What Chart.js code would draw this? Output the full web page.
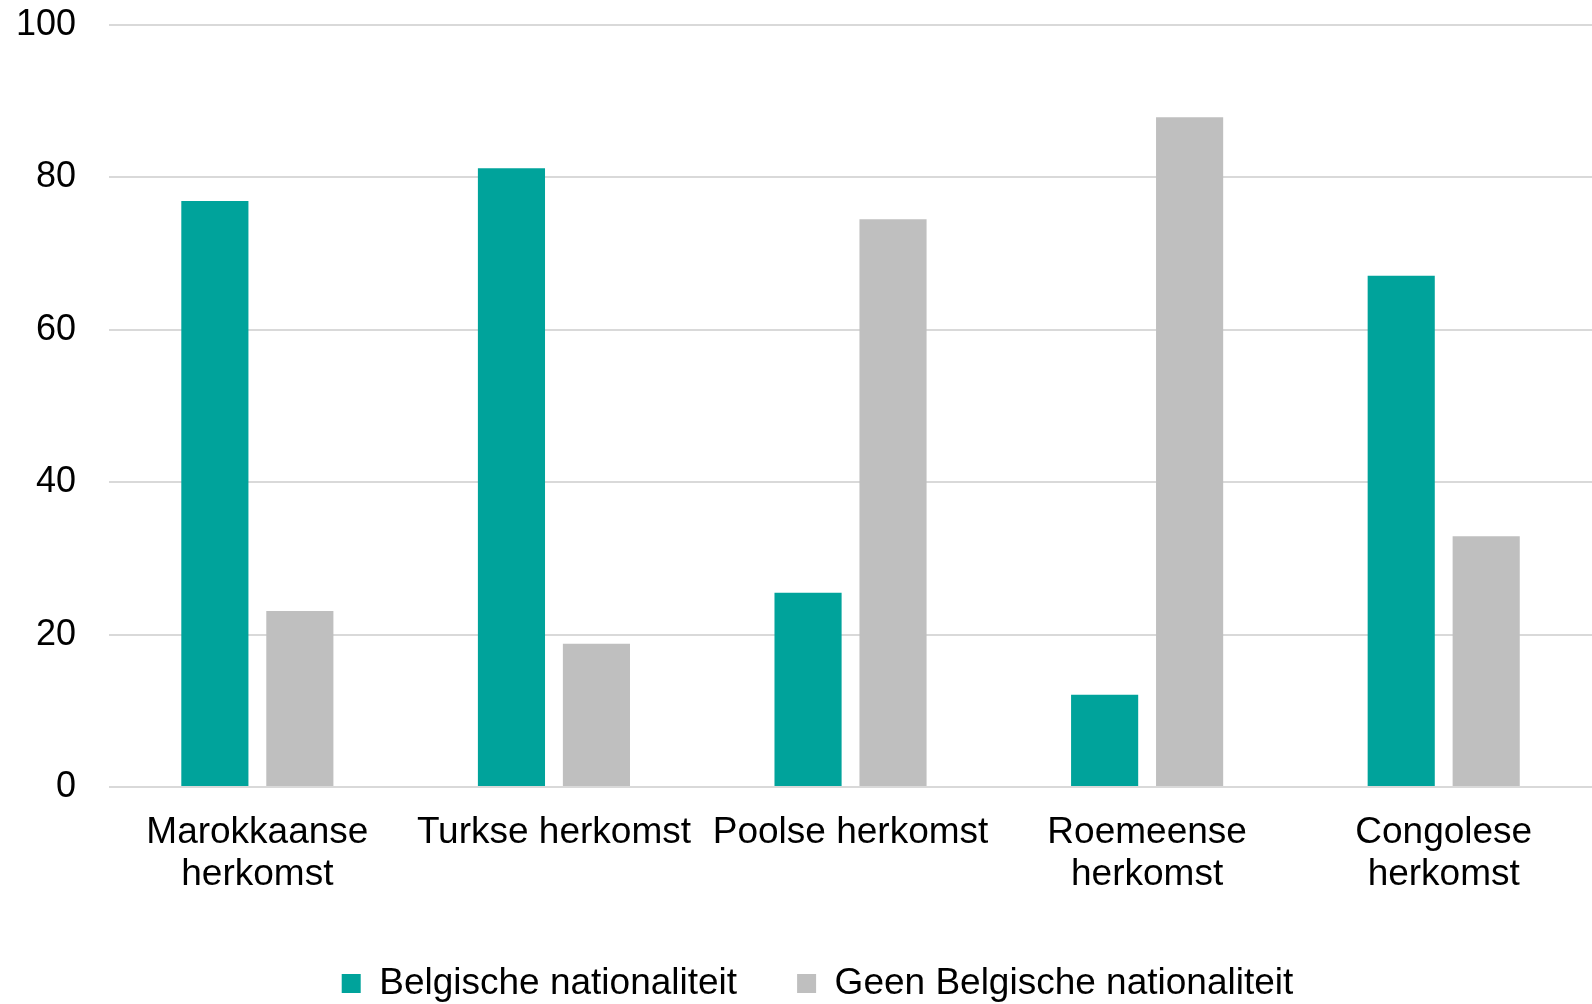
<!DOCTYPE html>
<html>
<head>
<meta charset="utf-8">
<script src="https://cdn.jsdelivr.net/npm/chart.js@4"></script>
<style>
  html, body { margin: 0; padding: 0; background: #fff; }
  #wrap { width: 1592px; height: 1004px; }
</style>
</head>
<body>
<div id="wrap"><canvas id="chart" width="1592" height="1004"></canvas></div>
<script>
// categories (multi-line labels as in the original)
const categories = [
    ['Marokkaanse', 'herkomst'],
    'Turkse herkomst',
    'Poolse herkomst',
    ['Roemeense', 'herkomst'],
    ['Congolese', 'herkomst']
];
const belgisch = [76.9, 81.2, 25.5, 12.1, 67.1];
const nietBelgisch = [23.1, 18.8, 74.5, 87.9, 32.9];
const yTicks = [0, 20, 40, 60, 80, 100];

const FONT = 'Liberation Sans, Arial, sans-serif';
const gridColor = '#d9d9d9';

// legend in the original sits a little right of the canvas centre
const legendShift = {
    id: 'legendShift',
    afterLayout(chart) {
        chart.legend.left += 30;
        chart.legend.right += 30;
    }
};

const ctx = document.getElementById('chart').getContext('2d');

new Chart(ctx, {
    type: 'bar',
    data: {
        labels: categories,
        datasets: [
            {
                label: 'Belgische nationaliteit',
                data: belgisch,
                backgroundColor: '#00a39b'
            },
            {
                label: 'Geen Belgische nationaliteit',
                data: nietBelgisch,
                backgroundColor: '#bfbfbf'
            }
        ]
    },
    plugins: [legendShift],
    options: {
        responsive: false,
        animation: false,
        devicePixelRatio: 1,
        categoryPercentage: 0.573,
        barPercentage: 0.79,
        // tick padding is counted twice by chart.js, negative values compensate
        layout: {
            padding: { left: -17, right: 0, top: 25, bottom: -8 }
        },
        scales: {
            x: {
                grid: { display: false, drawTicks: false },
                border: { display: false },
                ticks: {
                    color: '#000',
                    font: { family: FONT, size: 37, lineHeight: 1.14 },
                    padding: 25,
                    maxRotation: 0,
                    autoSkip: false
                },
                afterFit: (scale) => {
                    scale.paddingLeft = 0;
                    scale.paddingRight = 0;
                    scale.height = 118;   // room between labels and legend
                }
            },
            y: {
                min: 0,
                max: 100,
                afterBuildTicks: (axis) => {
                    axis.ticks = yTicks.map(v => ({ value: v }));
                },
                grid: { color: gridColor, lineWidth: 2, drawTicks: false },
                border: { display: false },
                ticks: {
                    color: '#000',
                    font: { family: FONT, size: 36 },
                    padding: 33
                },
                afterFit: (scale) => {
                    scale.paddingTop = 0;
                    scale.paddingBottom = 0;
                }
            }
        },
        plugins: {
            legend: {
                position: 'bottom',
                labels: {
                    color: '#000',
                    font: { family: FONT, size: 37 },
                    boxWidth: 19,
                    boxHeight: 19,
                    padding: 60
                }
            },
            tooltip: { enabled: false },
            title: { display: false }
        }
    }
});
</script>
</body>
</html>
